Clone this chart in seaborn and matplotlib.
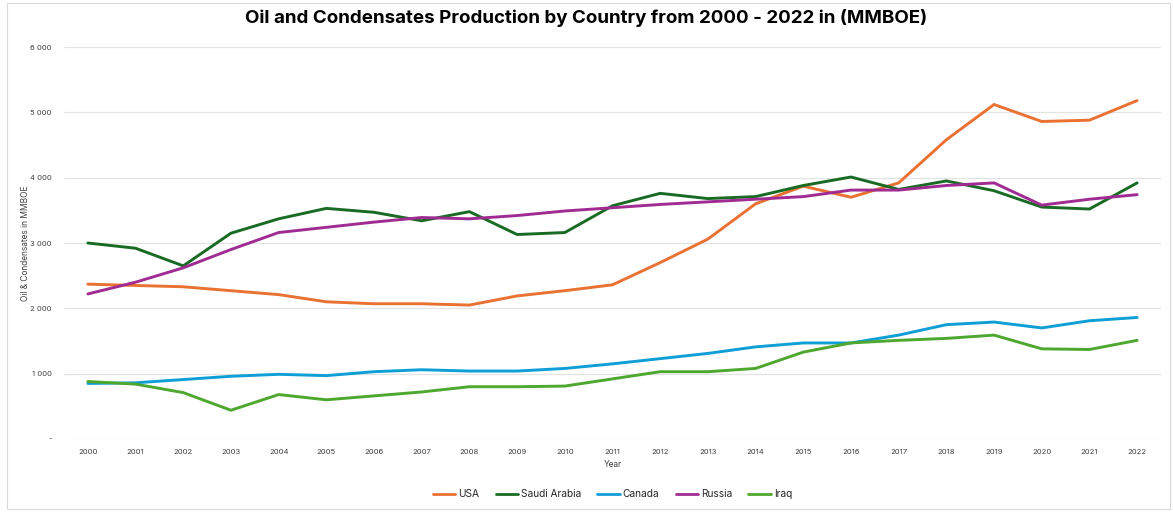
import matplotlib
matplotlib.use("Agg")
import matplotlib.pyplot as plt
import seaborn as sns
import pandas as pd
from matplotlib.ticker import FuncFormatter, MultipleLocator
from matplotlib.patches import Rectangle

years = list(range(2000, 2023))
usa = [2370, 2350, 2330, 2270, 2210, 2100, 2070, 2070, 2050, 2190, 2270, 2360,
       2700, 3060, 3600, 3870, 3700, 3920, 4580, 5120, 4860, 4880, 5180]
saudi = [3000, 2920, 2650, 3150, 3370, 3530, 3470, 3340, 3480, 3130, 3160, 3570,
         3760, 3680, 3710, 3880, 4010, 3820, 3950, 3800, 3550, 3520, 3920]
canada = [850, 860, 910, 960, 990, 970, 1030, 1060, 1040, 1040, 1080, 1150,
          1230, 1310, 1410, 1470, 1470, 1590, 1750, 1790, 1700, 1810, 1860]
russia = [2220, 2400, 2620, 2900, 3160, 3240, 3320, 3390, 3370, 3420, 3490, 3540,
          3590, 3630, 3670, 3710, 3810, 3810, 3880, 3920, 3580, 3670, 3740]
iraq = [880, 840, 710, 440, 680, 600, 660, 720, 800, 800, 810, 920,
        1030, 1030, 1080, 1330, 1470, 1510, 1540, 1590, 1380, 1370, 1510]

countries = ["USA", "Saudi Arabia", "Canada", "Russia", "Iraq"]
series = [usa, saudi, canada, russia, iraq]
colors = ["#E97132", "#196B24", "#0F9ED5", "#A02B93", "#4EA72E"]

rows = []
for c, vals in zip(countries, series):
    for y, v in zip(years, vals):
        rows.append({"Year": y, "Value": v, "Country": c})
df = pd.DataFrame(rows)

sns.set_theme(style="white")
plt.rcParams["font.family"] = ["Inter", "DejaVu Sans"]

fig = plt.figure(figsize=(11.73, 5.12), dpi=100)
ax = fig.add_axes([64/1173, 1-439/512, (1161-64)/1173, (439-47)/512])

sns.lineplot(data=df, x="Year", y="Value", hue="Country", hue_order=countries,
             palette=dict(zip(countries, colors)), linewidth=2.1, ax=ax, legend=True)

ax.set_xlim(1999.5, 2022.5)
ax.set_ylim(0, 6000)
ax.set_xticks(years)
ax.set_xticklabels([str(y) for y in years], fontsize=5.5, color="#404040")
ax.yaxis.set_major_locator(MultipleLocator(1000))
ax.yaxis.set_major_formatter(FuncFormatter(
    lambda v, p: "-" if v == 0 else f"{int(v):,}".replace(",", " ")))
ax.tick_params(axis="y", labelsize=5.5, colors="#404040", length=0, pad=9)
ax.tick_params(axis="x", length=0, pad=7)
ax.grid(axis="y", color="#E3E3E3", linewidth=0.9)
for s in ax.spines.values():
    s.set_visible(False)

ax.set_xlabel("Year", fontsize=6, color="#404040", labelpad=4)
ax.set_ylabel("Oil & Condensates in MMBOE", fontsize=6, color="#404040")
ax.yaxis.set_label_coords(-0.031, 0.5)

fig.suptitle("Oil and Condensates Production by Country from 2000 - 2022 in (MMBOE)",
             x=0.5, y=0.982, fontsize=13.5, fontweight="bold", color="#000000")

leg = ax.legend(loc="upper center", bbox_to_anchor=(0.5, -0.105), ncol=5, frameon=False,
                fontsize=7.3, handlelength=2.2, handletextpad=0.3, columnspacing=1.6)
for line in leg.get_lines():
    line.set_linewidth(2.0)

fig.patches.append(Rectangle((7/1173, 3/512), 1163/1173, 506/512, transform=fig.transFigure,
                             fill=False, edgecolor="#D9D9D9", linewidth=0.8))

fig.savefig("out.png", dpi=100)
